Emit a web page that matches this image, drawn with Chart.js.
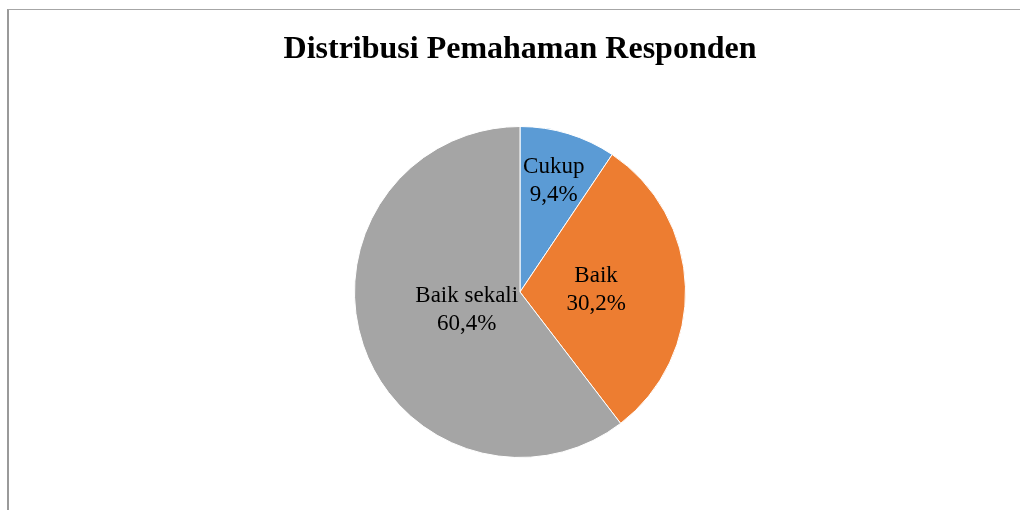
<!DOCTYPE html>
<html>
<head>
<meta charset="utf-8">
<script src="https://cdn.jsdelivr.net/npm/chart.js@4"></script>
<style>
  body { margin: 0; background: #fff; }
  #wrap { position: relative; width: 1020px; height: 510px; }
  #frame { position: absolute; left: 7px; top: 9px; right: 0; bottom: 0;
           border-top: 1px solid #a6a6a6; border-left: 2px solid #9a9a9a; }
  canvas { position: absolute; left: 0; top: 0; }
</style>
</head>
<body>
<div id="wrap">
  <div id="frame"></div>
  <canvas id="pie" width="1020" height="510"></canvas>
</div>
<script>
const categories = ["Cukup", "Baik", "Baik sekali"]
const shares = [9.4, 30.2, 60.4]
const shareLabels = ["9,4%", "30,2%", "60,4%"]
const colors = ["#5b9bd5", "#ed7d31", "#a5a5a5"]

/* labels inside slices, like the spreadsheet "best fit" */
const sliceLabels = {
    id: "sliceLabels",
    afterDatasetsDraw(chart, args, opts) {
        const ctx = chart.ctx
        const meta = chart.getDatasetMeta(0)
        ctx.save()
        ctx.font = "23px 'Liberation Serif', 'Times New Roman', serif"
        ctx.fillStyle = "#000"
        ctx.textAlign = "center"
        ctx.textBaseline = "middle"
        meta.data.forEach((arc, i) => {
            const p = arc.getProps(["x", "y", "startAngle", "endAngle", "outerRadius"], true)
            const mid = (p.startAngle + p.endAngle) / 2
            const r = p.outerRadius * opts.dist[i]
            const x = p.x + Math.cos(mid) * r
            const y = p.y + Math.sin(mid) * r
            ctx.fillText(categories[i], x, y - 14)
            ctx.fillText(shareLabels[i], x, y + 14)
        })
        ctx.restore()
    }
}

new Chart(document.getElementById("pie"), {
    type: "pie",
    data: {
        labels: categories,
        datasets: [{
            data: shares,
            backgroundColor: colors,
            borderColor: "#ffffff",
            borderWidth: 1
        }]
    },
    options: {
        responsive: false,
        animation: false,
        layout: { padding: { left: 20, bottom: 52 } },
        plugins: {
            legend: { display: false },
            tooltip: { enabled: false },
            title: {
                display: true,
                text: "Distribusi Pemahaman Responden",
                color: "#000",
                font: { family: "'Liberation Serif', 'Times New Roman', serif", size: 32, weight: "bold", lineHeight: 1.2 },
                padding: { top: 31, bottom: 56.6 }
            },
            sliceLabels: { dist: [0.7, 0.46, 0.34] }
        }
    },
    plugins: [sliceLabels]
})
</script>
</body>
</html>
